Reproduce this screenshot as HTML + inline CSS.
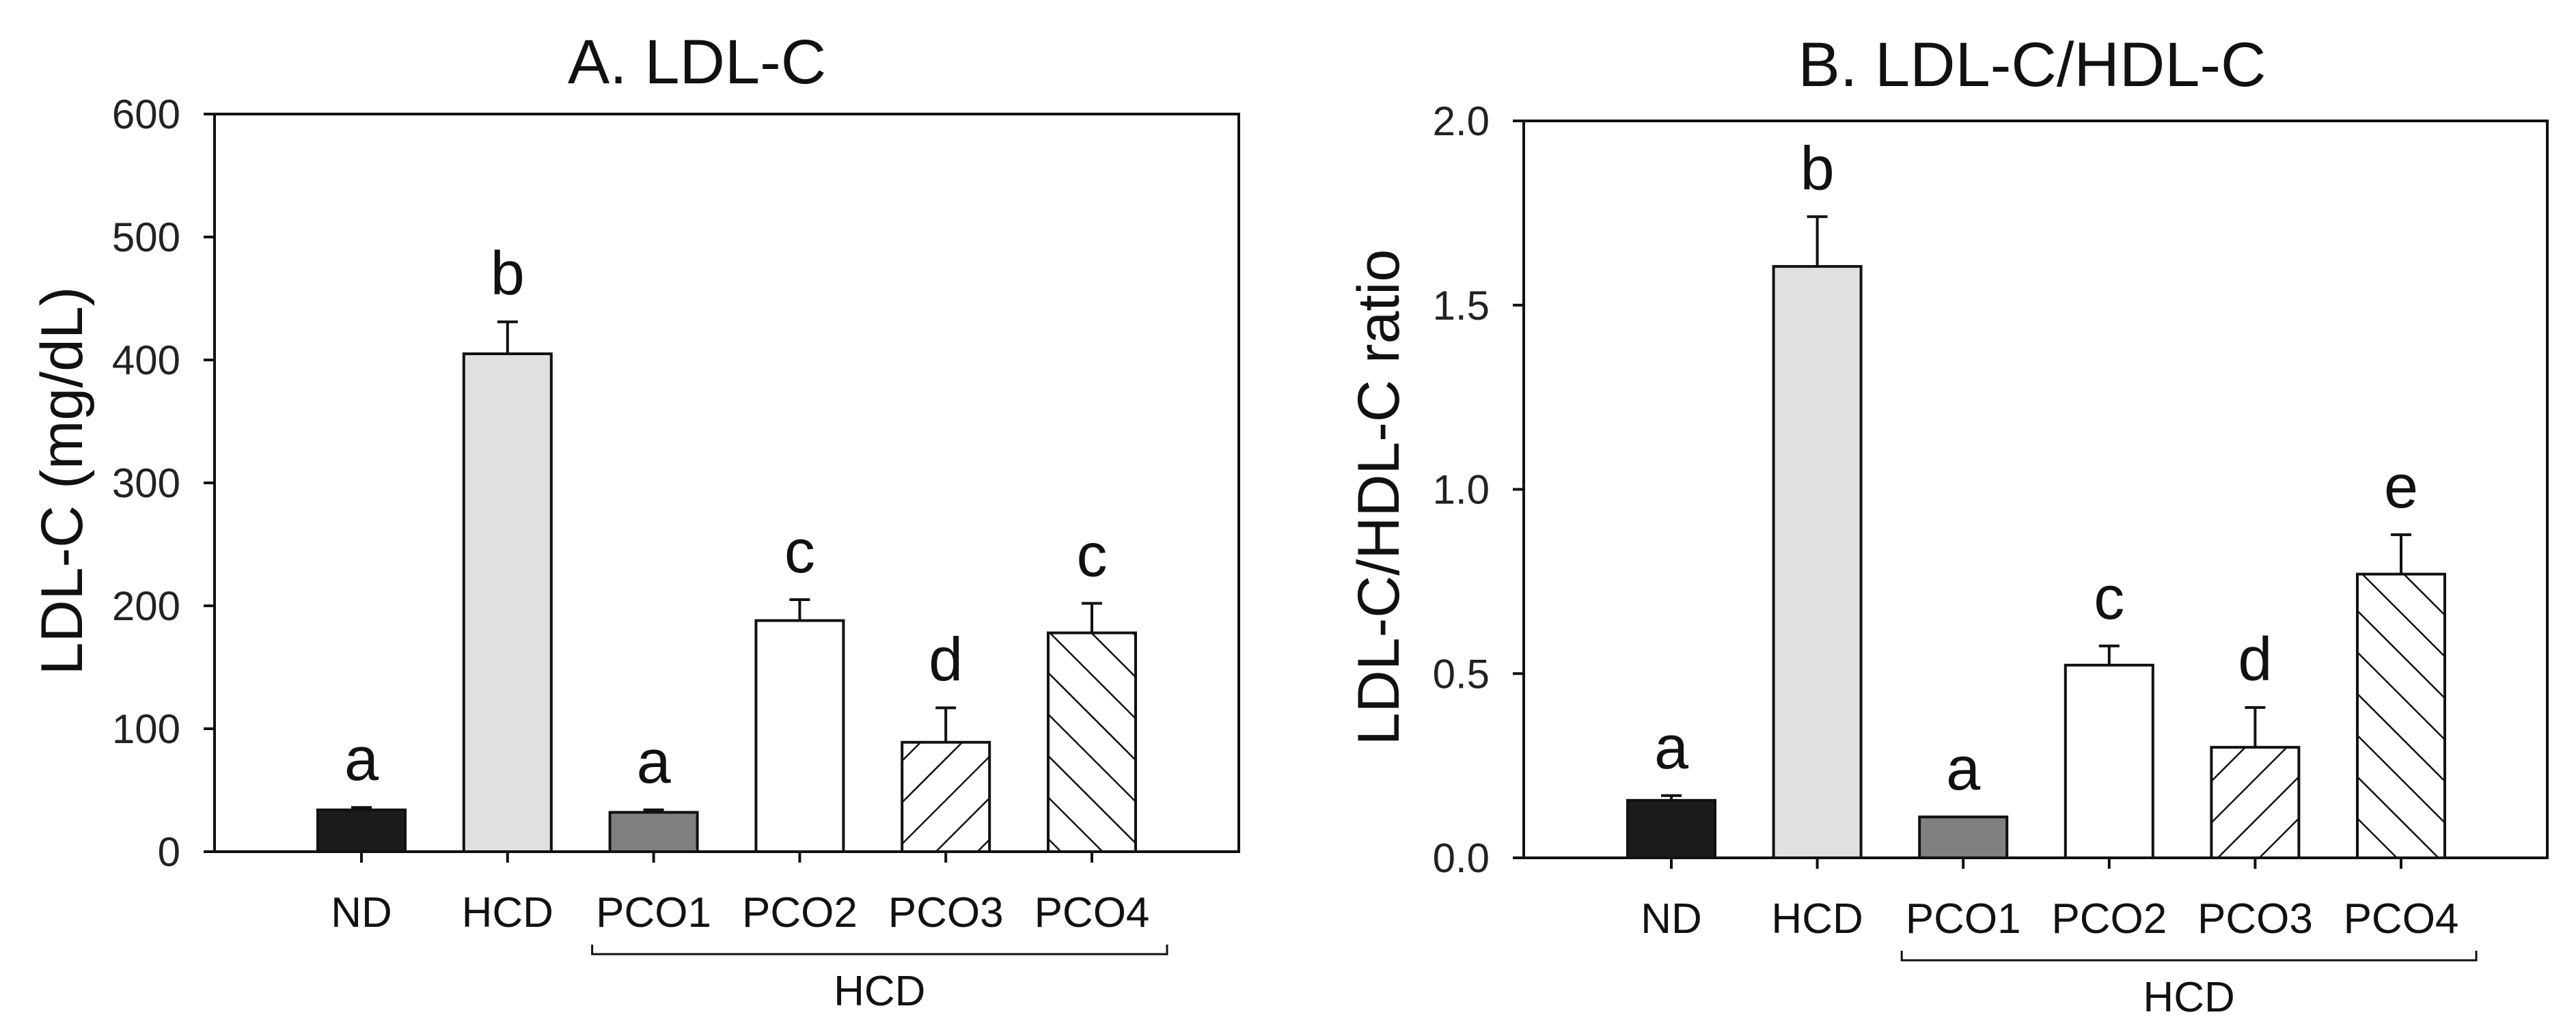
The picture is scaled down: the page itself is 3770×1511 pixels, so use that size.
<!DOCTYPE html>
<html><head><meta charset="utf-8"><style>
html,body{margin:0;padding:0;background:#fff;}
svg{display:block;font-family:"Liberation Sans",Arial,sans-serif;}
</style></head><body>
<svg id="chart" width="3770" height="1511" viewBox="0 0 3770 1511" xmlns="http://www.w3.org/2000/svg">
<defs>
<pattern id="hatchF" patternUnits="userSpaceOnUse" width="43" height="43" patternTransform="rotate(45)">
<rect width="43" height="43" fill="#fff"/><line x1="0" y1="0" x2="0" y2="43" stroke="#111" stroke-width="5"/></pattern>
<pattern id="hatchB" patternUnits="userSpaceOnUse" width="43" height="43" patternTransform="rotate(-45)">
<rect width="43" height="43" fill="#fff"/><line x1="0" y1="0" x2="0" y2="43" stroke="#111" stroke-width="5"/></pattern>
</defs>
</svg>
<script>
const categories = ["ND","HCD","PCO1","PCO2","PCO3","PCO4"];
const ldlValues = [34, 405, 32, 188, 89, 178];
const ldlErrors = [2, 26, 2, 17, 28, 24];
const ldlLetters = ["a","b","a","c","d","c"];
const ldlTicks = ["0","100","200","300","400","500","600"];
const ratioValues = [0.156, 1.605, 0.111, 0.523, 0.30, 0.77];
const ratioErrors = [0.013, 0.135, 0, 0.052, 0.108, 0.107];
const ratioLetters = ["a","b","a","c","d","e"];
const ratioTicks = ["0.0","0.5","1.0","1.5","2.0"];
const fills = ["#1b1b1b","#e0e0e0","#808080","#ffffff","url(#hatchF)","url(#hatchB)"];

const svg = document.getElementById('chart');
const NS = "http://www.w3.org/2000/svg";
function mk(tag, attrs, text){
  const e = document.createElementNS(NS, tag);
  for (const k in attrs) e.setAttribute(k, attrs[k]);
  if (text !== undefined) e.textContent = text;
  svg.appendChild(e);
  return e;
}

function panel(p){
  const yScale = v => p.bottom - (v / p.max) * (p.bottom - p.top);
  const xScale = i => p.x0 + i * p.step;
  let t = mk('text', {x:p.titleX, y:p.titleY, 'font-size':92, 'text-anchor':'middle', fill:'#111'}, p.title);
  
  
  t = mk('text', {x:0, y:0, 'font-size':86, 'text-anchor':'middle', fill:'#111', transform:`translate(${p.yTitleX},${p.yTitleY}) rotate(-90)`}, p.yTitle);
  
  
  let f = mk('rect', {x:p.left, y:p.top, width:p.right-p.left, height:p.bottom-p.top, fill:'none', stroke:'#111', 'stroke-width':4});
  
  
  p.ticks.forEach((lab, i) => {
    const v = parseFloat(lab);
    const y = yScale(v);
    let l = mk('line', {x1:p.left-16, x2:p.left, y1:y, y2:y, stroke:'#111', 'stroke-width':4});
    
    
    let tx = mk('text', {x:p.left-50, y:y+21, 'font-size':60, 'text-anchor':'end', fill:'#222'}, lab);
    
    
  });
  categories.forEach((c, i) => {
    const cx = xScale(i);
    const v = p.values[i];
    const y = yScale(v);
    const bw = 128;
    let r = mk('rect', {x:cx-bw/2, y:y, width:bw, height:p.bottom-y, fill:fills[i], stroke:'#111', 'stroke-width':4});
    
    
    if (p.errors[i] > 0) {
      const ye = yScale(v + p.errors[i]);
      let e1 = mk('line', {x1:cx, x2:cx, y1:y, y2:ye, stroke:'#111', 'stroke-width':4});
      
      
      let e2 = mk('line', {x1:cx-15, x2:cx+15, y1:ye, y2:ye, stroke:'#111', 'stroke-width':4});
      
      
    }
    const ytop = yScale(v + p.errors[i]);
    let lt = mk('text', {x:cx, y:ytop-40, 'font-size':90, 'text-anchor':'middle', fill:'#111'}, p.letters[i]);
    
    
    let tk = mk('line', {x1:cx, x2:cx, y1:p.bottom, y2:p.bottom+16, stroke:'#111', 'stroke-width':4});
    
    
    let cl = mk('text', {x:cx, y:p.bottom+110, 'font-size':62, 'text-anchor':'middle', fill:'#111'}, c);
    
    
  });
  const bx1 = xScale(2) - 90, bx2 = xScale(5) + 110, by = p.bottom + 150;
  let b = mk('path', {d:`M${bx1} ${by-14} L${bx1} ${by} L${bx2} ${by} L${bx2} ${by-14}`, fill:'none', stroke:'#111', 'stroke-width':3});
  
  
  let bl = mk('text', {x:(bx1+bx2)/2, y:p.bottom+225, 'font-size':62, 'text-anchor':'middle', fill:'#111'}, 'HCD');
  
  
}

panel({id:'panel-a', title:'A. LDL-C', titleX:1020, titleY:122, yTitle:'LDL-C (mg/dL)', yTitleX:120, yTitleY:704,
  left:314, right:1813, top:167, bottom:1247, max:600, x0:529, step:213.8,
  values:ldlValues, errors:ldlErrors, letters:ldlLetters, ticks:ldlTicks});
panel({id:'panel-b', title:'B. LDL-C/HDL-C', titleX:2974, titleY:126, yTitle:'LDL-C/HDL-C ratio', yTitleX:2047, yTitleY:728,
  left:2230, right:3728, top:177, bottom:1256, max:2.0, x0:2446, step:213.6,
  values:ratioValues, errors:ratioErrors, letters:ratioLetters, ticks:ratioTicks});
</script>
</body></html>
